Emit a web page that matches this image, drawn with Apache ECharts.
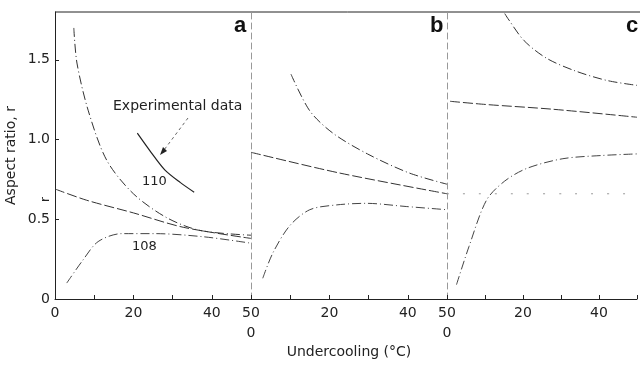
<!DOCTYPE html>
<html>
<head>
<meta charset="utf-8">
<script src="https://cdn.jsdelivr.net/npm/echarts@6/dist/echarts.min.js"></script>
<style>html,body{margin:0;padding:0;background:#fff;}#chart{width:640px;height:371px;}</style>
</head>
<body>
<div id="chart"></div>
<script>
// ---- data (undercooling in °C, aspect ratio r) ----
const xTicks = [0, 20, 40, 50];
const yTicks = [0, 0.5, 1.0, 1.5];
const panelLetters = ['a', 'b', 'c'];

// panel a
const a110 = [[4.8,1.70],[5.6,1.48],[8.5,1.18],[13.2,0.87],[20,0.66],[28.5,0.51],[37,0.43],[50,0.40]];
const aExperimental = [[21,1.04],[24.5,0.92],[28,0.81],[32,0.73],[35.5,0.67]];
const aMiddle = [[0,0.69],[8,0.62],[20,0.54],[32.7,0.45],[50,0.38]];
const a108 = [[3,0.10],[7,0.24],[11,0.36],[17,0.41],[25.5,0.41],[38,0.39],[50,0.35]];

// panel b
const bUpper = [[10.2,1.41],[15,1.18],[20.9,1.04],[29.7,0.91],[40.4,0.79],[50,0.72]];
const bMiddle = [[0,0.92],[22.6,0.79],[50,0.66]];
const bLower = [[3,0.13],[5.6,0.29],[9.9,0.46],[15,0.56],[21.8,0.59],[29.4,0.60],[39.6,0.58],[50,0.56]];

// panel c
const cUpper = [[15.2,1.79],[16,1.76],[20.3,1.62],[26.2,1.51],[33.8,1.43],[42.2,1.37],[50,1.34]];
const cMiddle = [[0.8,1.24],[10.2,1.22],[27.9,1.19],[50,1.14]];
const cLower = [[2.5,0.09],[5.8,0.33],[10.4,0.62],[15.2,0.74],[21.1,0.82],[30.5,0.88],[40.7,0.90],[50,0.91]];
const cDotted = [[0,0.66],[50,0.66]];

const FONT = 'DejaVu Sans';
const INK = '#222';
const chart = echarts.init(document.getElementById('chart'));

const lefts = [55, 251, 447];
const grids = lefts.map(l => ({left: l, top: 12, width: 196, height: 287, show: false}));

function xAxisFor(i) {
  return {
    gridIndex: i, type: 'value', min: 0, max: 50, interval: 10,
    axisLine: {show: true, lineStyle: {color: INK, width: 1}},
    axisTick: {show: true, inside: true, length: 4, lineStyle: {color: INK}},
    splitLine: {show: false},
    axisLabel: {
      show: true, margin: 4, color: INK, fontFamily: FONT, fontSize: 14,
      lineHeight: 20,
      formatter: function (v) {
        if (v === 0) return i === 0 ? '0' : '\n0';
        if (v === 50 && i === 2) return '';
        return xTicks.indexOf(v) >= 0 ? String(v) : '';
      }
    }
  };
}
function yAxisFor(i) {
  return {
    gridIndex: i, type: 'value', min: 0, max: 1.8, interval: 0.5,
    name: i === 0 ? 'Aspect ratio, r' : '',
    nameLocation: 'middle', nameGap: 37, nameRotate: 90,
    nameTextStyle: {color: INK, fontFamily: FONT, fontSize: 14},
    axisLine: {show: true, lineStyle: {color: i === 0 ? INK : '#999', width: 1, type: i === 0 ? 'solid' : [6, 4]}},
    axisTick: {show: i === 0, inside: true, length: 4, lineStyle: {color: INK}},
    splitLine: {show: false},
    axisLabel: {
      show: i === 0, margin: 5, color: INK, fontFamily: FONT, fontSize: 14, showMaxLabel: false,
      formatter: function (v) {
        if (yTicks.indexOf(v) < 0) return '';
        return v === 0 ? '0' : v.toFixed(1);
      }
    }
  };
}

function line(data, idx, type, color, width) {
  return {
    type: 'line', xAxisIndex: idx, yAxisIndex: idx, data: data, smooth: 0.3,
    showSymbol: false, silent: true, animation: false,
    lineStyle: {color: color || '#333', width: width || 1, type: type || 'solid'}
  };
}
const dashDot = [9, 3, 1, 3];
const longDash = [10, 3];

chart.setOption({
  backgroundColor: '#fff',
  animation: false,
  grid: grids,
  xAxis: [0, 1, 2].map(xAxisFor),
  yAxis: [0, 1, 2].map(yAxisFor),
  series: [
    line(a110, 0, dashDot, '#333'),
    line(aExperimental, 0, 'solid', '#222', 1.2),
    line(aMiddle, 0, longDash, '#333'),
    line(a108, 0, dashDot, '#444'),
    line(bUpper, 1, dashDot, '#333'),
    line(bMiddle, 1, longDash, '#333'),
    line(bLower, 1, dashDot, '#444'),
    line(cUpper, 2, dashDot, '#333'),
    line(cMiddle, 2, longDash, '#333'),
    line(cLower, 2, dashDot, '#444'),
    line(cDotted, 2, [2, 14], '#999')
  ],
  graphic: [
    {type: 'line', shape: {x1: 55, y1: 12, x2: 640, y2: 12}, style: {stroke: INK, lineWidth: 1}},
    {type: 'text', left: 234, top: 15, style: {text: panelLetters[0], font: 'bold 22px "Liberation Sans"', fill: '#111'}},
    {type: 'text', left: 430, top: 15, style: {text: panelLetters[1], font: 'bold 22px "Liberation Sans"', fill: '#111'}},
    {type: 'text', left: 626, top: 15, style: {text: panelLetters[2], font: 'bold 22px "Liberation Sans"', fill: '#111'}},
    {type: 'text', x: 113, y: 99, style: {text: 'Experimental data', font: '14px "DejaVu Sans"', fill: INK}},
    {type: 'line', shape: {x1: 188, y1: 118, x2: 164, y2: 150}, style: {stroke: '#666', lineWidth: 1, lineDash: [3, 3]}},
    {type: 'polygon', shape: {points: [[160, 155], [163, 147], [167, 151]]}, style: {fill: '#222'}},
    {type: 'text', x: 142, y: 175, style: {text: '110', font: '13px "DejaVu Sans"', fill: INK}},
    {type: 'text', x: 132, y: 240, style: {text: '108', font: '13px "DejaVu Sans"', fill: INK}},
    {type: 'text', x: 40, y: 202, rotation: Math.PI / 2, style: {text: 'r', font: '12px "DejaVu Sans"', fill: INK}},
    {type: 'text', x: 349, y: 352, style: {text: 'Undercooling (\u00B0C)', font: '14px "DejaVu Sans"', fill: INK, textAlign: 'center', textVerticalAlign: 'middle'}}
  ]
});
</script>
</body>
</html>
